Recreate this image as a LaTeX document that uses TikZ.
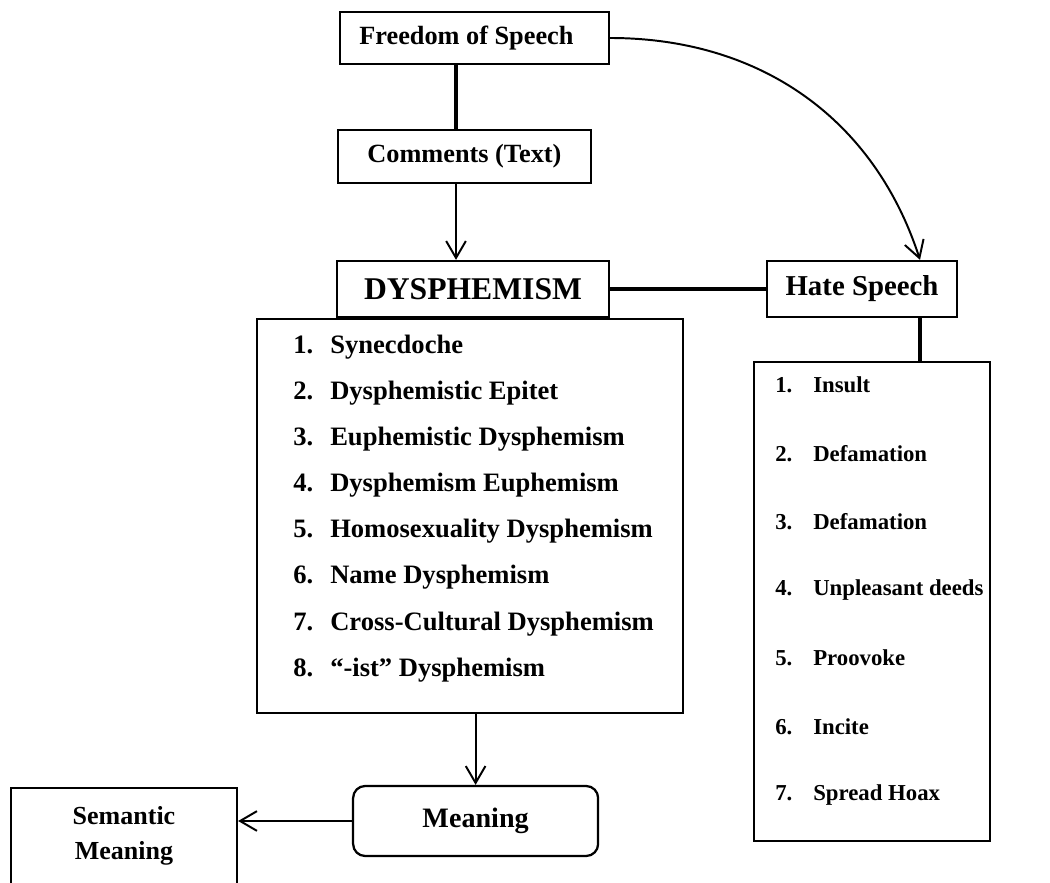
\documentclass[tikz,border=0pt]{standalone}
\usepackage{fontspec}
\setmainfont{Liberation Serif}
\usetikzlibrary{arrows.meta}

\begin{document}
\begin{tikzpicture}[
	>={Straight Barb[length=12pt,width=14pt]},
	box/.style={draw, line width=1.6pt, inner sep=0pt, font=\fontsize{18.7}{22}\selectfont\bfseries},
	title/.style={box, font=\fontsize{22.5}{26}\selectfont\bfseries},
	item/.style={anchor=west, inner sep=0pt, font=\fontsize{18.9}{22}\selectfont\bfseries},
	hitem/.style={anchor=west, inner sep=0pt, font=\fontsize{16.2}{20}\selectfont\bfseries},
	arrow/.style={->, line width=1.4pt},
	heavy/.style={line width=3.4pt}
	]
	\clip (0,0) rectangle (26.25,22.05);

	\node at (11.86,21.10) [box, minimum width=6.725cm, minimum height=1.3cm] (fos) {Freedom of Speech\hspace*{0.4cm}};
	\node at (11.61,18.14) [box, minimum width=6.325cm, minimum height=1.325cm] (com) {Comments (Text)};
	\node at (11.825,14.825) [title, minimum width=6.8cm, minimum height=1.4cm] (dys) {DYSPHEMISM};
	\node at (21.55,14.825) [box, minimum width=4.75cm, minimum height=1.4cm,
		font=\fontsize{20.5}{24}\selectfont\bfseries] (hate) {Hate Speech};
	\node at (11.75,9.15) [box, minimum width=10.65cm, minimum height=9.85cm] (dlist) {};
	\node at (21.8,7.0125) [box, minimum width=5.9cm, minimum height=11.975cm] (hlist) {};
	\node at (11.89,1.525) [box, rounded corners=0.3cm, minimum width=6.125cm, minimum height=1.75cm,
		font=\fontsize{20}{24}\selectfont\bfseries] (mean) {Meaning};
	\node at (3.1,2.375) [box, anchor=north, minimum width=5.65cm, inner ysep=0.45cm, align=center,
		font=\fontsize{18.5}{25}\selectfont\bfseries] (sem) {Semantic\\Meaning\\~};

	% dysphemism types
	\foreach \n/\t in {1/Synecdoche, 2/Dysphemistic Epitet, 3/Euphemistic Dysphemism,
		4/Dysphemism Euphemism, 5/Homosexuality Dysphemism, 6/Name Dysphemism,
		7/Cross-Cultural Dysphemism, 8/“-ist” Dysphemism}
		\node at (7.325,13.375-1.153*\n+1.153) [item] (d\n) {\makebox[0.925cm][l]{\n.}\t};

	% hate speech types
	\foreach \n/\t in {1/Insult, 2/Defamation, 3/Defamation, 4/Unpleasant deeds,
		5/Proovoke, 6/Incite, 7/Spread Hoax}
		\node at (19.375,12.425-1.7075*\n+1.7075) [hitem] (h\n) {\makebox[0.95cm][l]{\n.}\t};

	\coordinate (c1) at ([xshift=-0.21cm]com.north);
	\coordinate (c2) at ([xshift=1.45cm]hate.south);

	\draw [heavy] (c1) -- (c1 |- fos.south);
	\draw [arrow] (c1 |- com.south) -- (c1 |- dys.north);
	\draw [line width=2.4pt] (dys) -- (hate);
	\draw [arrow] (fos.east) to[out=0, in=108] (c2 |- hate.north);
	\draw [line width=2.8pt] (c2) -- (c2 |- hlist.north);
	\draw [arrow] (mean.north |- dlist.south) -- (mean.north);
	\draw [arrow] (mean.west) -- (mean.west -| sem.east);

\end{tikzpicture}
\end{document}
